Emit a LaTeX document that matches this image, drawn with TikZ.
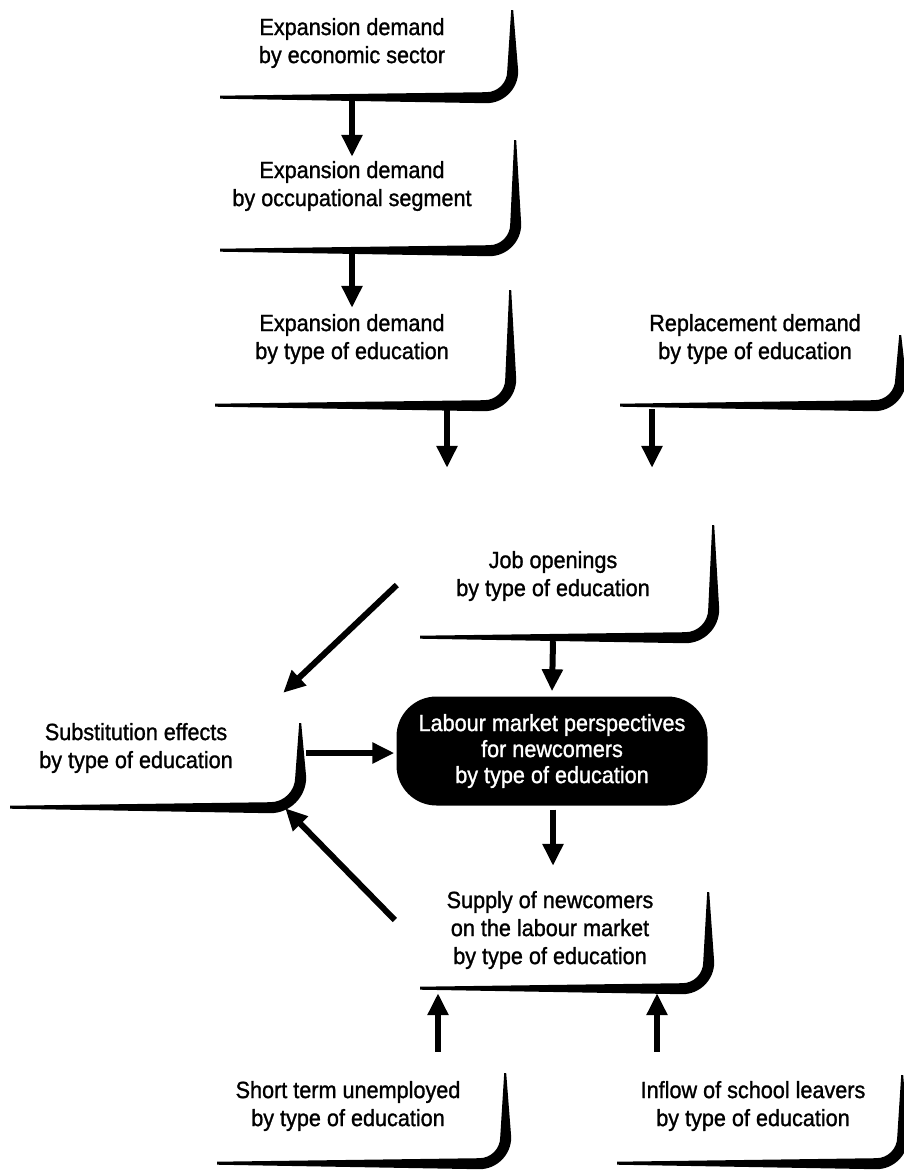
\documentclass[tikz,border=0pt]{standalone}
\usepackage{fontspec}
\setmainfont[FakeStretch=0.92,FakeBold=1.2]{Liberation Sans}
\usetikzlibrary{calc,arrows.meta}
\newcommand\frameshadow[4]{% node, right edge height, bottom length, corner radius
  \fill ($(#1.south east)+(1,#2)$) -- ($(#1.south east)+(6,#4)$)
    arc[start angle=0,end angle=-90,radius=#4pt+6pt]
    -- ($(#1.south east)+(-#3,-1.5)$) -- ($(#1.south east)+(-#3,1.5)$)
    -- ($(#1.south east)+(-#4,5)$)
    arc[start angle=-90,end angle=0,radius=#4pt-5pt]
    -- ($(#1.south east)+(-1,#2)$) -- cycle;}
\begin{document}
\begin{tikzpicture}[x=1pt,y=1pt,
  box/.style={align=center,inner sep=0pt,font=\fontsize{23.5}{28}\selectfont},
  dark/.style={align=center,inner sep=0pt,fill=black,text=white,rounded corners=40pt,
     font=\fontsize{23.5}{26}\selectfont},
  arr/.style={line width=6pt,-{Triangle[length=22pt,width=20pt]}}]
\useasboundingbox (0,0) rectangle (904,-1172);
\node[box,minimum width=320,minimum height=108] (b1) at (352,-43) {Expansion demand\\by economic sector};
\node[box,minimum width=326,minimum height=128] (b2) at (352,-186) {Expansion demand\\by occupational segment};
\node[box,minimum width=316,minimum height=132] (b3) at (352,-339) {Expansion demand\\by type of education};
\node[box,minimum width=290,minimum height=132] (b4) at (755,-339) {Replacement demand\\by type of education};
\node[box,minimum width=320,minimum height=122] (b5) at (553,-576) {Job openings\\by type of education};
\node[dark,minimum width=311,minimum height=109] (b6) at (552,-751) {Labour market perspectives\\for newcomers\\by type of education};
\node[box,minimum width=328,minimum height=118] (b7) at (136,-748) {Substitution effects\\by type of education};
\node[box,minimum width=316,minimum height=116] (b8) at (550,-930) {Supply of newcomers\\on the labour market\\by type of education};
\node[box,minimum width=314,minimum height=114] (b9) at (348,-1106) {Short term unemployed\\by type of education};
\node[box,minimum width=298,minimum height=114] (b10) at (753,-1106) {Inflow of school leavers\\by type of education};
\frameshadow{b1}{87}{292}{26}
\frameshadow{b2}{110}{295}{26}
\frameshadow{b3}{115}{295}{26}
\frameshadow{b4}{70}{280}{26}
\frameshadow{b5}{112}{293}{28}
\frameshadow{b7}{84}{290}{30}
\frameshadow{b8}{96}{288}{26}
\frameshadow{b9}{90}{288}{26}
\frameshadow{b10}{88}{285}{26}
\draw[arr] ([yshift=-4pt]b1.south) -- ([yshift=-35pt]b2.north);
\draw[arr] ([yshift=-4pt]b2.south) -- ([yshift=-35pt]b3.north);
\draw[arr] ([xshift=95pt,yshift=-4pt]b3.south) -- ([xshift=-106pt,yshift=47pt]b5.north);
\draw[arr] ([xshift=-103pt,yshift=-4pt]b4.south) -- ([xshift=99pt,yshift=47pt]b5.north);
\draw[arr] ([yshift=-4pt]b5.south) -- ([yshift=5pt]b6.north);
\draw[arr] ([xshift=4pt,yshift=-9pt]b5.west) -- ([xshift=-17pt,yshift=-4pt]b7.north east);
\draw[arr] ([xshift=6pt,yshift=-5pt]b7.east) -- ([xshift=-2pt,yshift=-2pt]b6.west);
\draw[arr] ([xshift=1pt,yshift=-4pt]b6.south) -- ([xshift=3pt,yshift=6pt]b8.north);
\draw[arr] ([xshift=3pt,yshift=10pt]b8.west) -- ([xshift=-15pt,yshift=-1pt]b7.south east);
\draw[arr] ([xshift=90pt,yshift=-3pt]b9.north) -- ([xshift=-112pt,yshift=-5pt]b8.south);
\draw[arr] ([xshift=-96pt,yshift=-3pt]b10.north) -- ([xshift=107pt,yshift=-5pt]b8.south);
\end{tikzpicture}
\end{document}
